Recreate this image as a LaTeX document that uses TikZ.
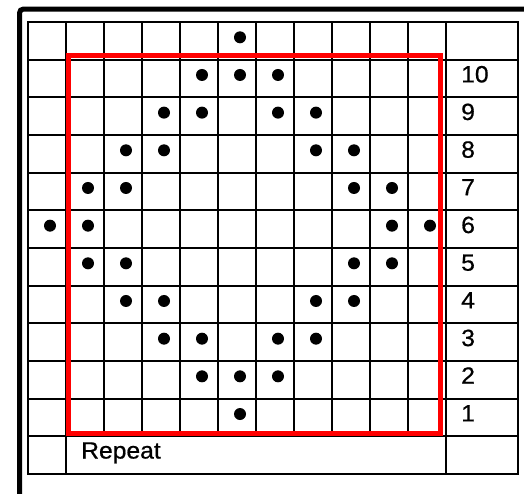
\documentclass[tikz,border=0pt]{standalone}
\usepackage{fontspec}
\setmainfont[FakeBold=0.7,FakeStretch=1.05]{Liberation Sans}
\begin{document}
\begin{tikzpicture}[x=1pt,y=-1pt,
  gridline/.style={line width=2pt,black},
  frame/.style={line width=5pt,black,rounded corners=4pt},
  repeatbox/.style={line width=5pt,draw={rgb,255:red,255;green,0;blue,0}},
  stitch/.style={circle,fill=black,inner sep=0pt,minimum size=12pt},
  lbl/.style={anchor=base west,inner sep=0pt,font=\fontsize{23.5}{23.5}\selectfont}]
\useasboundingbox (0,0) rectangle (524,493);
\begin{scope}
\clip (0,0) rectangle (524,493);
\draw[frame] (19.5,520) -- (19.5,9) -- (540,9);
\end{scope}
% horizontal lines
\foreach \j in {0,...,12}{
  \draw[gridline] (27,{22+37.67*\j}) -- (519,{22+37.67*\j});
}
% vertical lines
\foreach \x in {28,66,446,518}{
  \draw[gridline] (\x,21) -- (\x,475);
}
\foreach \i in {2,...,10}{
  \draw[gridline] ({28+38*\i},21) -- ({28+38*\i},{22+37.67*11});
}
% repeat box
\draw[repeatbox] (68,55) rectangle (440.5,433);
% stitches
\foreach \r/\cols in {0/{5},1/{4,5,6},2/{3,4,6,7},3/{2,3,7,8},4/{1,2,8,9},5/{0,1,9,10},6/{1,2,8,9},7/{2,3,7,8},8/{3,4,6,7},9/{4,5,6},10/{5}}{
  \foreach \c in \cols {
    \node[stitch] (s\r-\c) at ({50+38*\c},{37.3+37.67*\r}) {};
  }
}
% row numbers
\foreach \n in {1,...,10}{
  \node[lbl] (n\n) at (461,{22+37.67*(12-\n)-15}) {\n};
}
\node[lbl] (rep) at (81,{22+37.67*12-15.5}) {Repeat};
\end{tikzpicture}
\end{document}
